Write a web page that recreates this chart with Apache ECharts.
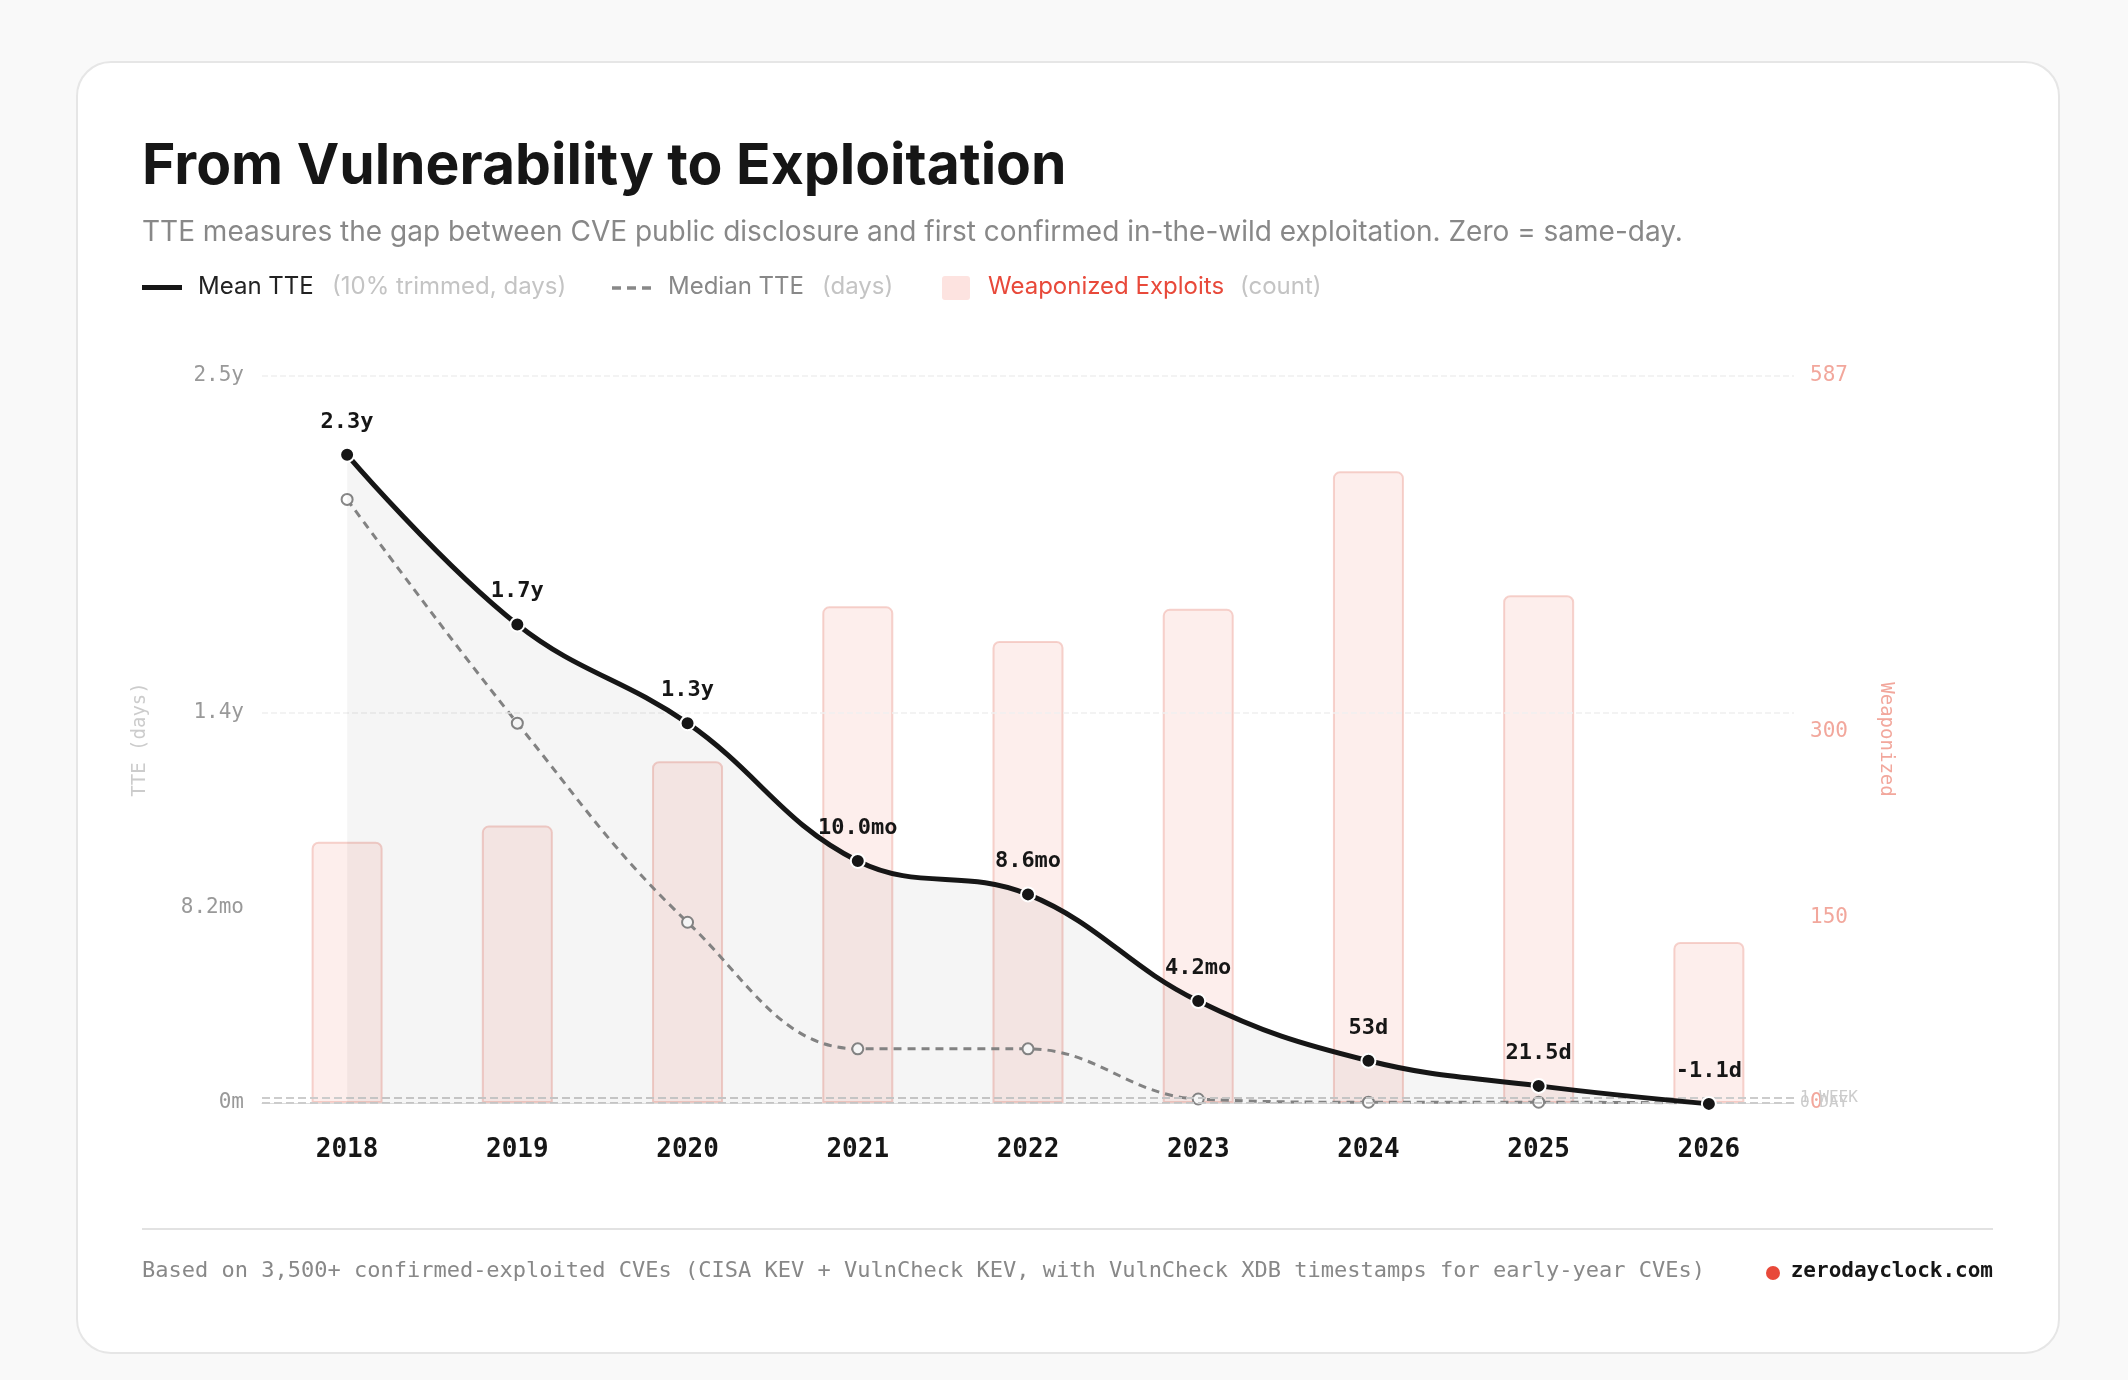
<!DOCTYPE html>
<html>
<head>
<meta charset="utf-8">
<script src="https://cdn.jsdelivr.net/npm/echarts@6/dist/echarts.min.js"></script>
<style>
html,body{margin:0;padding:0;background:#f9f9f9;}
#chart{width:2128px;height:1380px;}
</style>
</head>
<body>
<div id="chart"></div>
<script>
var years = ['2018','2019','2020','2021','2022','2023','2024','2025','2026'];
// days
var meanTTE = [814, 601, 477, 304, 262, 128, 53, 21.5, -1.1];
var meanLabels = ['2.3y','1.7y','1.3y','10.0mo','8.6mo','4.2mo','53d','21.5d','-1.1d'];
var medianTTE = [758, 477, 227, 68, 68, 5, 1, 1, 0];
var weaponized = [211, 224, 276, 401, 373, 399, 510, 410, 130];
var leftTicks = [0, 245, 490, 913];
var leftTickLabels = ['0m', '8.2mo', '1.4y', '2.5y'];
var rightTicks = [0, 150, 300, 587];

var mono = '"DejaVu Sans Mono", monospace';
var sans = 'Inter, "Noto Sans", sans-serif';

var chart = echarts.init(document.getElementById('chart'));
var option = {
  backgroundColor: '#f9f9f9',
  animation: false,
  graphic: [
    {type:'rect', shape:{x:77,y:62,width:1982,height:1291,r:34}, style:{fill:'#fff',stroke:'#e6e6e6',lineWidth:2}, z:-10},
    {type:'text', left:142, top:138, style:{text:'From Vulnerability to Exploitation', font:'bold 57px '+sans, fill:'#161616'}},
    {type:'text', left:142, top:219, style:{text:'TTE measures the gap between CVE public disclosure and first confirmed in-the-wild exploitation. Zero = same-day.', font:'28px '+sans, fill:'#888'}},
    // legend
    {type:'rect', shape:{x:142,y:285,width:40,height:5}, style:{fill:'#161616'}},
    {type:'text', left:198, top:275, style:{text:'Mean TTE', font:'24px '+sans, fill:'#222'}},
    {type:'text', left:332, top:275, style:{text:'(10% trimmed, days)', font:'24px '+sans, fill:'#c4c4c4'}},
    {type:'line', shape:{x1:612,y1:288,x2:656,y2:288}, style:{stroke:'#888',lineWidth:3.5,lineDash:[9,6]}},
    {type:'text', left:668, top:275, style:{text:'Median TTE', font:'24px '+sans, fill:'#888'}},
    {type:'text', left:822, top:275, style:{text:'(days)', font:'24px '+sans, fill:'#c4c4c4'}},
    {type:'rect', shape:{x:942,y:276,width:28,height:24,r:3}, style:{fill:'#fde3e0'}},
    {type:'text', left:988, top:275, style:{text:'Weaponized Exploits', font:'24px '+sans, fill:'#e8493a'}},
    {type:'text', left:1240, top:275, style:{text:'(count)', font:'24px '+sans, fill:'#c4c4c4'}},
    // footer
    {type:'line', shape:{x1:142,y1:1229,x2:1993,y2:1229}, style:{stroke:'#e2e2e2',lineWidth:2}},
    {type:'text', left:142, top:1260, style:{text:'Based on 3,500+ confirmed-exploited CVEs (CISA KEV + VulnCheck KEV, with VulnCheck XDB timestamps for early-year CVEs)', font:'22px '+mono, fill:'#888'}},
    {type:'circle', shape:{cx:1773,cy:1273,r:7}, style:{fill:'#e8493a'}},
    {type:'text', right:135, top:1261, style:{text:'zerodayclock.com', font:'bold 21px '+mono, fill:'#161616'}}
  ],
  grid: {left:262, right:334, top:376, bottom:277},
  xAxis: {
    type:'category', data: years, boundaryGap:true,
    axisLine:{show:true, lineStyle:{color:'#ddd'}}, axisTick:{show:false},
    axisLabel:{color:'#161616', fontFamily:mono, fontWeight:'bold', fontSize:26, margin:34}
  },
  yAxis: [
    {
      type:'value', min:0, max:913,
      name:'TTE (days)', nameLocation:'middle', nameGap:112, nameRotate:90,
      nameTextStyle:{color:'#ccc', fontFamily:mono, fontSize:19},
      axisLine:{show:false}, axisTick:{show:false},
      axisLabel:{customValues:leftTicks, color:'#999', fontFamily:mono, fontSize:21, margin:18,
        formatter:function(v){var i=leftTicks.indexOf(v);return i>=0?leftTickLabels[i]:'';}},
      splitLine:{show:false}
    },
    {
      type:'value', min:0, max:587, position:'right',
      name:'Weaponized', nameLocation:'middle', nameGap:82, nameRotate:-90,
      nameTextStyle:{color:'#f2a79c', fontFamily:mono, fontSize:19},
      axisLine:{show:false}, axisTick:{show:false},
      axisLabel:{customValues:rightTicks, color:'#f2a79c', fontFamily:mono, fontSize:21, margin:16},
      splitLine:{show:false}
    }
  ],
  series: [
    {
      type:'bar', yAxisIndex:1, data: weaponized, barWidth:71, z:1,
      itemStyle:{color:'rgba(250,205,200,0.35)', borderColor:'rgba(240,180,172,0.6)', borderWidth:2, borderRadius:[6,6,0,0]}
    },
    {
      type:'line', yAxisIndex:0, data: medianTTE, smooth:0.4, z:4,
      lineStyle:{color:'#888', width:3, type:[8,6]},
      symbol:'circle', symbolSize:11, itemStyle:{color:'#fff', borderColor:'#888', borderWidth:2}
    },
    {
      type:'line', yAxisIndex:0, data: meanTTE, smooth:0.4, z:6, clip:false,
      lineStyle:{color:'#161616', width:5},
      symbol:'circle', symbolSize:14, itemStyle:{color:'#161616', borderColor:'#fff', borderWidth:2},
      areaStyle:{color:'rgba(0,0,0,0.055)'},
      label:{show:true, position:'top', distance:14, fontFamily:mono, fontWeight:'bold', fontSize:22, color:'#161616',
        formatter:function(p){return meanLabels[p.dataIndex];}},
      markLine:{
        silent:true, symbol:'none',
        lineStyle:{color:'#ccc', type:'dashed', width:2},
        label:{position:'end', fontFamily:mono, fontSize:16, color:'#ccc', distance:6},
        data:[
          {yAxis:7, label:{formatter:'1 WEEK'}},
          {yAxis:0, label:{formatter:'0 DAY'}},
          {yAxis:490, lineStyle:{color:'#f0f0f0', width:1.5}, label:{show:false}},
          {yAxis:913, lineStyle:{color:'#f0f0f0', width:1.5}, label:{show:false}}
        ]
      }
    }
  ]
};
chart.setOption(option);
</script>
</body>
</html>
